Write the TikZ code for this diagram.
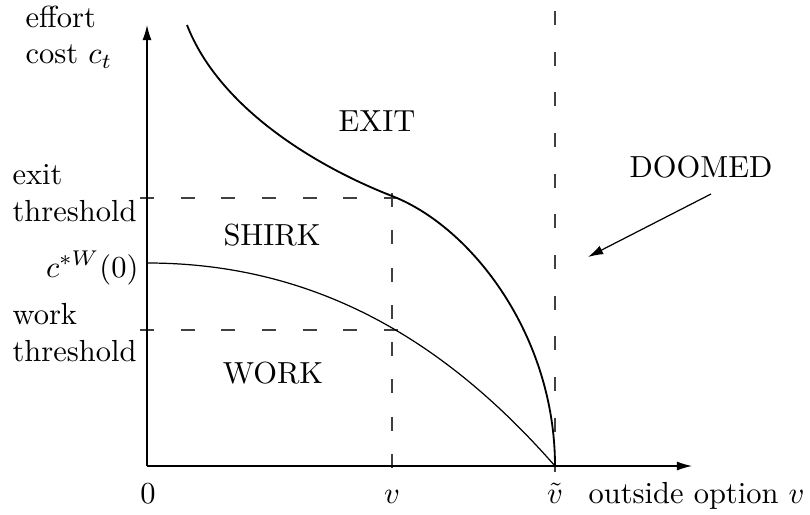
\documentclass[tikz,border=0pt]{standalone}
\usetikzlibrary{arrows.meta}
\begin{document}
\begin{tikzpicture}[x=0.328pt,y=-0.328pt,
  axis/.style={line width=0.4pt,-{Latex[length=5pt,width=3pt]}},
  guide/.style={line width=0.4pt,black!75},
  lab/.style={inner sep=0pt,font=\normalsize},
  region/.style={inner sep=0pt,anchor=center}]
\path[use as bounding box] (0,0) rectangle (810,515);
% key points
\coordinate (O) at (147,466);
\coordinate (Ytop) at (147,25);
\coordinate (Xend) at (692,466);
\coordinate (Vt) at (555,466);
% guides
\draw[guide,dash pattern=on 4.59pt off 8.75pt] (140,198) -- (398,198);
\draw[guide,dash pattern=on 4.59pt off 8.75pt] (140,330) -- (398,330);
\draw[guide,dash pattern=on 4.59pt off 7.64pt] (392,193) -- (392,468);
\draw[guide,dash pattern=on 4.59pt off 8.75pt] (555,11) -- (555,473);
% axes
\draw[axis] (O) -- (Ytop);
\draw[axis] (O) -- (Xend);
% curves
\draw[line width=0.6pt] (187,25) .. controls (220,110) and (320,168) .. (392,196)
  .. controls (472,227) and (555,336) .. (Vt);
\draw[line width=0.4pt] (147,263) .. controls (327,263) and (455,352) .. (Vt);
% labels
\node[lab,anchor=north west,align=left] (yl) at (25,5) {effort\\cost $c_t$};
\node[lab,anchor=north west,align=left] (ex) at (12,164) {exit\\threshold};
\node[lab,anchor=north west,align=left] (wk) at (12,303) {work\\threshold};
\node[lab,anchor=base east] (c0) at (139,277) {$c^{*W}(0)$};
\node[lab,anchor=base] (zero) at (148,503) {$0$};
\node[lab,anchor=base] (vl) at (392,503) {$v$};
\node[lab,anchor=base] (vtl) at (555,503) {$\tilde v$};
\node[lab,anchor=base west] (xl) at (588,503) {outside option $v$};
\node[region] (exit) at (377,121) {EXIT};
\node[region] (shirk) at (272,235) {SHIRK};
\node[region] (work) at (273,373) {WORK};
\node[region] (doomed) at (701,167) {DOOMED};
\coordinate (as) at (711,194);
\coordinate (ae) at (588,257);
\draw[line width=0.4pt,-{Latex[length=5pt,width=3pt]}] (as) -- (ae);
\end{tikzpicture}
\end{document}
